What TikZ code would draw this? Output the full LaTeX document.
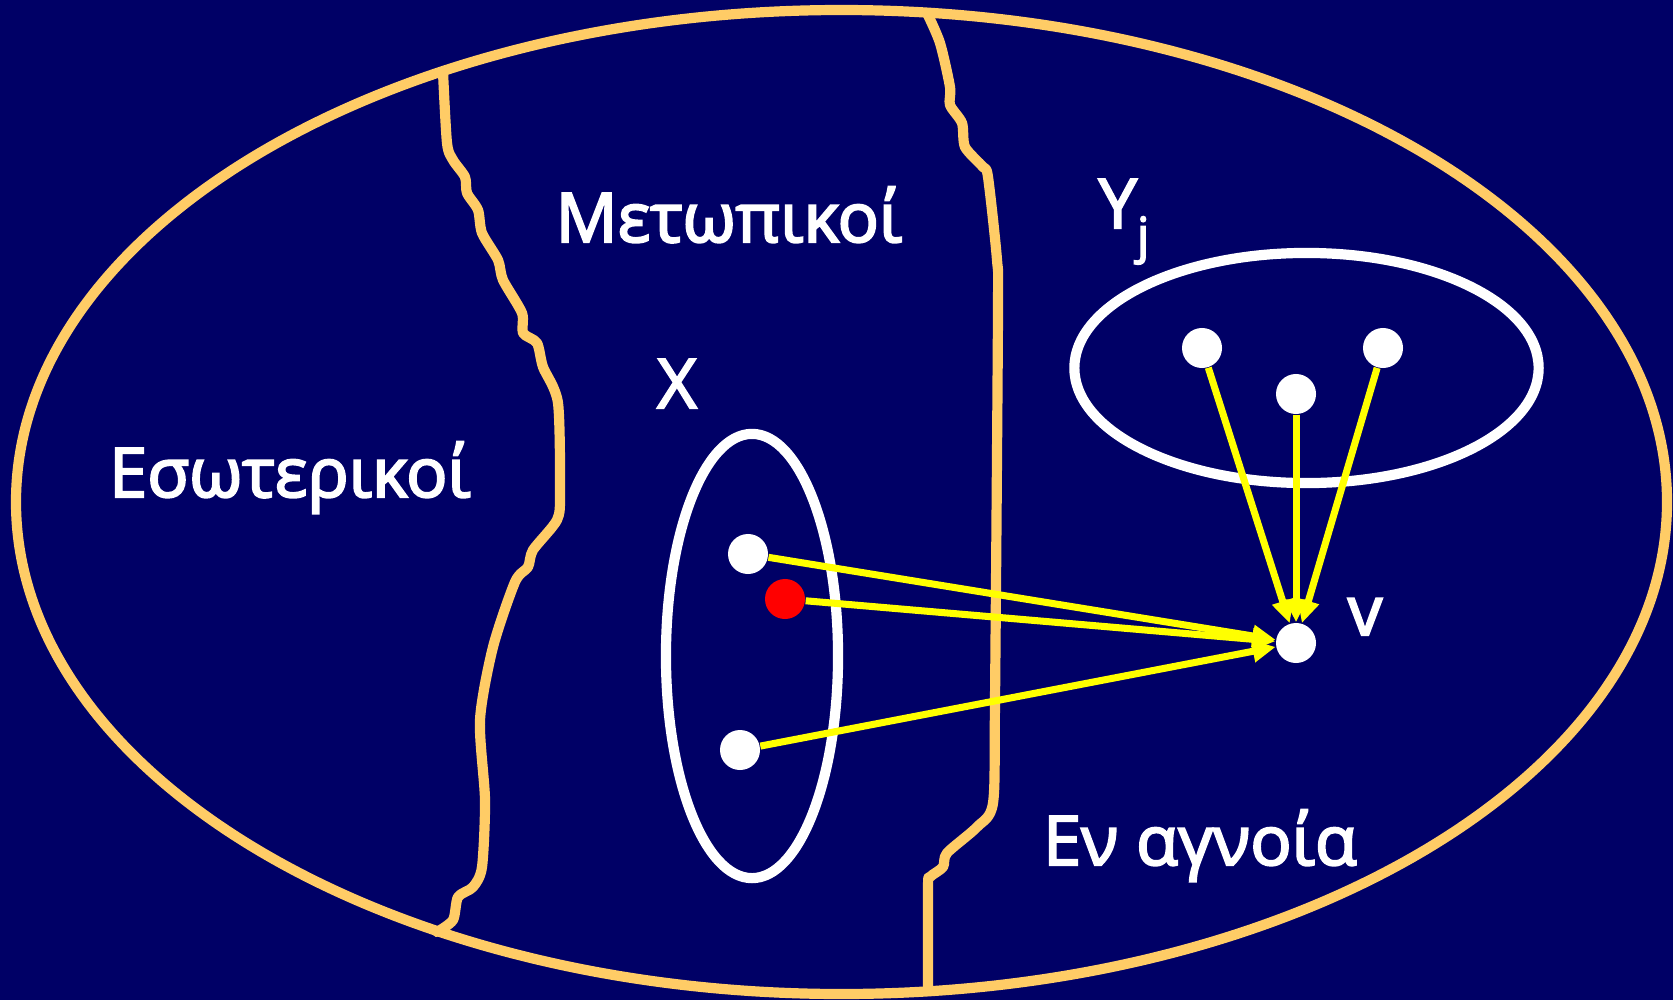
\documentclass[tikz,border=0pt]{standalone}
\usepackage{fontspec}
\setmainfont{Open Sans}
\usetikzlibrary{arrows.meta,shapes.geometric}
\definecolor{Navy}{HTML}{000066}
\definecolor{Sand}{HTML}{FFCC66}
\definecolor{Lemon}{HTML}{FFFF00}
\definecolor{Cherry}{HTML}{FF0000}
\tikzset{border/.style={draw=Sand,line width=2.9pt,line join=round,line cap=round},ring/.style={ellipse,draw=white,line width=2.9pt,inner sep=0pt},dot/.style={circle,fill=white,minimum size=.4cm,inner sep=0pt},flow/.style={-{Triangle[length=.23cm,width=.21cm]},line width=2pt,draw=Lemon},tag/.style={text=white,font=\fontsize{19.5}{23}\selectfont\addfontfeature{FakeBold=3},anchor=base,inner sep=0pt}}

\begin{document}
\begin{tikzpicture}[x=.01cm,y=-.01cm]
        \fill[Navy] (0,0) rectangle (1673,1000);
        \useasboundingbox (0,0) rectangle (1673,1000);
        % the whole population
        \draw[border] (841.5,502) ellipse [x radius=825.5,y radius=492];
        \draw[border] plot[smooth,tension=.45] coordinates {(443,72) (447,143) (453,160) (465,177) (467,193) (478,210) (482,233) (498,260) (503,280) (522,313) (523,333) (537,343) (543,367) (558,403) (560,493) (557,520) (533,550) (528,567) (515,582) (493,647) (480,720) (485,800) (482,867) (473,887) (458,897) (453,920) (437,932)};
        \draw[border] plot[smooth,tension=.45] coordinates {(927,13) (940,43) (950,87) (950,105) (962,123) (965,147) (983,167) (988,177) (997,260) (998,310) (995,700) (993,803) (977,827) (947,853) (943,867) (930,877) (928,887) (928,991)};
        \node[tag] (inner) at (290,497){Εσωτερικοί};
        \node[tag] (front) at (729,242){Μετωπικοί};
        \node[tag] (unaware) at (1200,865){Εν αγνοία};
        % the two sets
        \node[ring,minimum width=1.72cm,minimum height=4.44cm] (setX) at (752,656){};
        \node[ring,minimum width=4.64cm,minimum height=2.30cm] (setY) at (1306.5,368){};
        \node[tag] (labX) at (677,408){X};
        \node[tag] (labY) at (1124,228){Y\raisebox{-7pt}{\fontsize{14}{14}\selectfont j}};
        \node[tag] (labv) at (1365,635){v};
        \node[dot] (x1) at (748,554){};
        \node[dot,fill=Cherry] (x0) at (785,599){};
        \node[dot] (x2) at (740,750){};
        \node[dot] (y1) at (1202,348){};
        \node[dot] (y2) at (1296,394){};
        \node[dot] (y3) at (1383,348){};
        \node[dot] (v) at (1296,643){};
        \foreach \s in {x1,x0,x2,y1,y2,y3}
          \draw[flow] (\s) -- (v);
      \end{tikzpicture}
\end{document}
